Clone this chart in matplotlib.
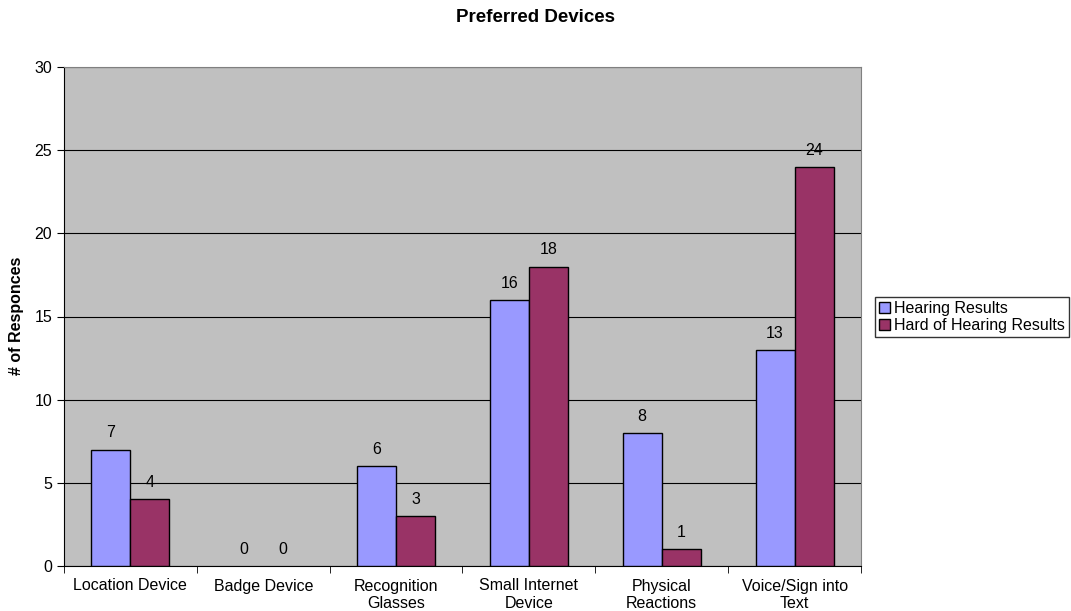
import numpy as np
import matplotlib.pyplot as plt

plt.rcParams['font.family'] = ['Liberation Sans', 'DejaVu Sans']

categories = ['Location Device', 'Badge Device', 'Recognition\nGlasses',
              'Small Internet\nDevice', 'Physical\nReactions', 'Voice/Sign into\nText']
hearing = [7, 0, 6, 16, 8, 13]
hard_of_hearing = [4, 0, 3, 18, 1, 24]

fig = plt.figure(figsize=(10.71, 6.11), dpi=100)
ax = fig.add_axes([64 / 1071, 1 - 566 / 611, 797 / 1071, 499 / 611])
ax.set_facecolor('#C0C0C0')

x = np.arange(len(categories))
w = 0.294
b1 = ax.bar(x - w / 2, hearing, w, color='#9999FF', edgecolor='black', linewidth=1,
            label='Hearing Results', zorder=3)
b2 = ax.bar(x + w / 2, hard_of_hearing, w, color='#993366', edgecolor='black', linewidth=1,
            label='Hard of Hearing Results', zorder=3)

for bars, vals in ((b1, hearing), (b2, hard_of_hearing)):
    for r, v in zip(bars, vals):
        if v == 0:
            r.set_linewidth(0)
        ax.text(r.get_x() + r.get_width() / 2, v + 0.55, str(v), ha='center', va='bottom',
                fontsize=11.5)

ax.set_xlim(-0.5, len(categories) - 0.5)
ax.set_ylim(0, 30)
ax.set_yticks(range(0, 31, 5))
ax.yaxis.grid(True, color='black', linewidth=0.8, zorder=1)
ax.set_axisbelow(True)

# category labels centred, ticks on the boundaries
ax.set_xticks(x)
ax.set_xticklabels(categories, fontsize=11.5, linespacing=1.25)
ax.tick_params(axis='x', length=0, pad=9)
ax.set_xticks(np.arange(-0.5, len(categories)), minor=True)
ax.tick_params(axis='x', which='minor', length=5, direction='out', color='black')
ax.tick_params(axis='y', length=5, direction='out', labelsize=11.5)

for s in ('top', 'right'):
    ax.spines[s].set_color('#808080')
ax.spines['left'].set_color('black')
ax.spines['bottom'].set_color('black')

fig.text(17 / 1071, 1 - 316 / 611, '# of Responces', rotation=90, ha='center', va='center',
         fontsize=11.5, fontweight='bold')
fig.text(535 / 1071, 1 - 17 / 611, 'Preferred Devices', ha='center', va='center',
         fontsize=13.5, fontweight='bold')

leg = fig.legend(loc='center left', bbox_to_anchor=(875 / 1071, 1 - 317 / 611),
                 fontsize=11.5, frameon=True, fancybox=False, handlelength=0.7,
                 handleheight=0.7, handletextpad=0.25, borderpad=0.25, labelspacing=0.15,
                 borderaxespad=0)
leg.get_frame().set_edgecolor('black')
leg.get_frame().set_linewidth(1)

plt.savefig('out.png', dpi=100)
